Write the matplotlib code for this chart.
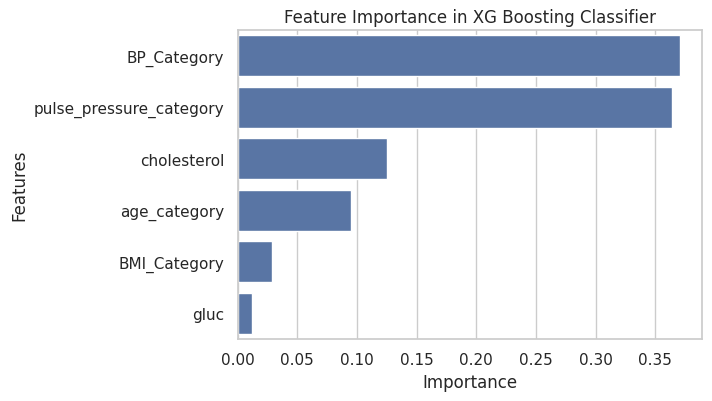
import matplotlib
matplotlib.use("Agg")
import matplotlib.pyplot as plt
import seaborn as sns
import pandas as pd

features = ['BP_Category', 'pulse_pressure_category', 'cholesterol',
            'age_category', 'BMI_Category', 'gluc']
importance = [0.3703, 0.3642, 0.1249, 0.0948, 0.0286, 0.0119]

sns.set_theme(style='whitegrid')

df = pd.DataFrame({'Feature': features, 'Importance': importance})

fig, ax = plt.subplots(figsize=(7.12, 4.02), dpi=100)
sns.barplot(data=df, x='Importance', y='Feature', ax=ax)
ax.set_title('Feature Importance in XG Boosting Classifier')
ax.set_xlabel('Importance')
ax.set_ylabel('Features')
fig.subplots_adjust(left=0.3336, right=0.9855, top=0.923, bottom=0.154)
fig.savefig('out.png', dpi=100)
